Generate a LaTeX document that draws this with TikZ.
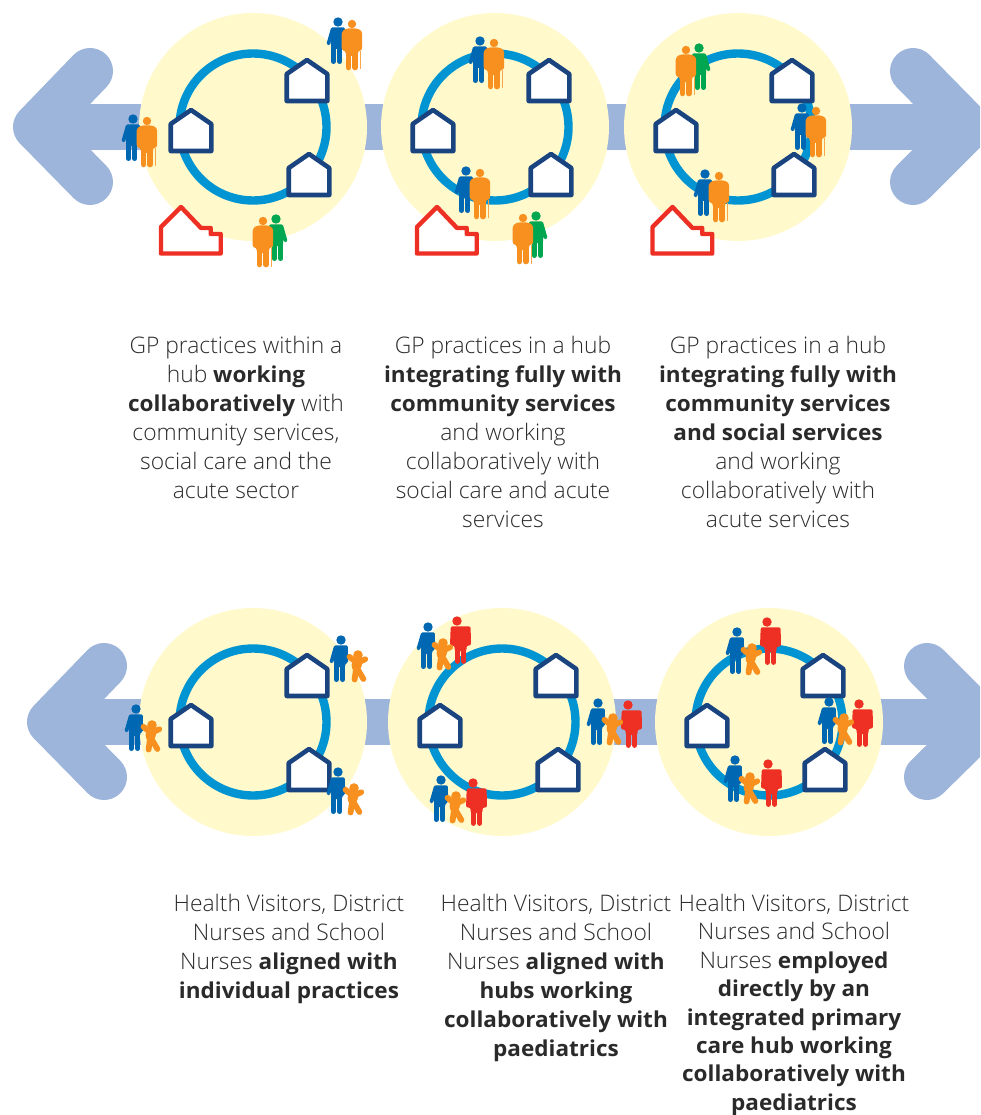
\documentclass[tikz,border=0pt]{standalone}
\usepackage{fontspec}
\setmainfont{Open Sans}[UprightFont=* Light,BoldFont=* Bold,BoldFeatures={Scale=0.96,FakeStretch=1.03}]
\definecolor{yel}{HTML}{FFF9CC}
\definecolor{ringc}{HTML}{0095D2}
\definecolor{navy}{HTML}{1A4480}
\definecolor{arrowc}{HTML}{9DB5DB}
\definecolor{bluep}{HTML}{0068B3}
\definecolor{orangep}{HTML}{F7901E}
\definecolor{greenp}{HTML}{00A650}
\definecolor{redp}{HTML}{EE2F24}
\definecolor{txt}{HTML}{2A2A2A}
\tikzset{
  x=1pt,y=-1pt,
  arrowstroke/.style={draw=arrowc,line width=46pt,line cap=round,line join=round},
  shaftstroke/.style={draw=arrowc,line width=46.5pt},
  caption/.style={align=center,text=txt,font=\fontsize{22.8}{29}\selectfont,anchor=north,inner sep=0pt},
  tightcaption/.style={caption,font=\fontsize{22.8}{28.4}\selectfont},
  hubdisc/.style={fill=yel},
  ringline/.style={draw=ringc,line width=8.4pt},
  hub/.pic={
    \fill[hubdisc] (0,0) circle[radius=114];
    \draw[ringline] (0,0) circle[radius=73.5];
    \foreach \hx/\hy in {-62/24,54/-26,56/68}{
      \draw[draw=navy,fill=white,line width=4.6pt,line join=round]
        (\hx-20.3,\hy) -- (\hx+20.3,\hy) -- (\hx+20.3,\hy-27) -- (\hx,\hy-41) -- (\hx-20.3,\hy-27) -- cycle;
    }
  },
  redbuilding/.pic={
    \draw[draw=redp,fill=white,line width=4.4pt,line join=round]
      (0,0) -- (-20,20) -- (-20,46.5) -- (39.7,46.5) -- (39.7,27) -- (29.7,27) -- (29.7,21) -- (20,21) -- cycle;
  },
  man/.pic={
    \fill[pic actions] (0,0) circle[radius=4.7];
    \fill[pic actions,rounded corners=1.5pt] (-6.8,5.3) -- (6.8,5.3) -- (7.2,23) -- (4.3,23) -- (4.3,27) -- (-7,27) -- (-7,19) -- (-8,23.5) -- (-11.7,22.5) -- cycle;
    \draw[pic actions,line width=5pt,line cap=round] (-4.6,24) -- (-4.6,39.5) (1.8,24) -- (1.8,39.5);
  },
  manmirror/.pic={
    \fill[pic actions] (0,0) circle[radius=4.7];
    \fill[pic actions,rounded corners=1.5pt] (6.8,5.3) -- (-6.8,5.3) -- (-7.2,23) -- (-4.3,23) -- (-4.3,27) -- (7,27) -- (7,19) -- (8,23.5) -- (11.7,22.5) -- cycle;
    \draw[pic actions,line width=5pt,line cap=round] (4.6,24) -- (4.6,39.5) (-1.8,24) -- (-1.8,39.5);
  },
  elder/.pic={
    \fill[orangep] (0,0) circle[radius=4.2];
    \fill[orangep,rounded corners=2.5pt] (-6,4.5) -- (6,4.5) -- (10.2,7.5) -- (10.2,26.5) -- (6,26.5) -- (6,32) -- (-6.3,32) -- (-6.3,26.5) -- (-10.3,26.5) -- (-10.3,7.5) -- cycle;
    \draw[orangep,line width=5.6pt,line cap=round] (-3.5,28) -- (-3.5,43.5) (3,28) -- (3,43.5);
    \draw[orangep!80,line width=1.4pt] (8.2,27) -- (8.2,45.5);
  },
  adult/.pic={
    \fill[redp] (0,0) circle[radius=4.7];
    \fill[redp,rounded corners=2pt] (-6.3,5.3) -- (13.6,5.3) -- (14,24.5) -- (9.5,24.5) -- (9.5,30) -- (-2.5,30) -- (-2.5,24.5) -- (-7,24.5) -- cycle;
    \draw[redp,line width=5.2pt,line cap=round] (0.3,26) -- (0.3,40.3) (6.7,26) -- (6.7,40.3);
  },
  child/.pic={
    \fill[orangep] (0,0) circle[radius=4.8];
    \draw[orangep,line width=5.8pt,line cap=round,line join=round] (-8.5,1.8) -- (-1,8) -- (7.2,4.2);
    \draw[orangep,line width=10pt,line cap=round] (-0.5,6) -- (-1.5,11);
    \draw[orangep,line width=5.8pt,line cap=round,line join=round] (-2,14) -- (-3.4,24.5) (-0.5,14) -- (5.4,24);
  },
}
\begin{document}
\begin{tikzpicture}
\useasboundingbox (0,0) rectangle (980,1115);
\clip (0,0) rectangle (980,1115);
% top arrow
\draw[shaftstroke] (60,127) -- (960,127);
\draw[arrowstroke] (90,71) -- (36,127) -- (90,182);
\draw[arrowstroke] (913,71) -- (968,127) -- (913,182);
% bottom arrow
\draw[shaftstroke] (74,722) -- (960,722);
\draw[arrowstroke] (104,666) -- (50,722) -- (104,777);
\draw[arrowstroke] (927,666) -- (983,722) -- (927,777);
% hubs
\pic at (253,127) {hub};
\pic at (495,127) {hub};
\pic at (738,127) {hub};
\pic at (253,722) {hub};
\pic at (502,722) {hub};
\pic at (769,722) {hub};
% red buildings
\pic at (181,207) {redbuilding};
\pic at (437,207) {redbuilding};
\pic at (672.5,207) {redbuilding};
% top people
\foreach \bx/\by/\ox/\oy in {338/22/352/24, 133/119/147/121, 480/41/494/43, 466/171/480/173, 802/108/816/111, 705/174/719/176}{
  \pic[bluep] at (\bx,\by) {man};
  \pic at (\ox,\oy) {elder};
}
\foreach \ox/\oy/\gx/\gy in {263/221/276/219, 523/218/536/216, 686/50/699/48}{
  \pic[greenp] at (\gx,\gy) {manmirror};
  \pic at (\ox,\oy) {elder};
}
% bottom people
\foreach \bx/\by/\cx/\cy in {341/640/358/655, 136/709/152/725, 338/772/354/788}{
  \pic[bluep] at (\bx,\by) {man};
  \pic at (\cx,\cy) {child};
}
\foreach \bx/\by/\cx/\cy/\rx/\ry in {428/627/443/643/457/621, 598/703/613/718/628/705, 441/780/456/796/473/783, 737/632/752/648/767/622, 829/702/844/718/859/704, 735/760/750/777/768/764}{
  \pic[bluep] at (\bx,\by) {man};
  \pic at (\rx,\ry) {adult};
  \pic at (\cx,\cy) {child};
}
% captions
\node[caption] (t1) at (236,336) {GP practices within a\\hub \textbf{working}\\\textbf{collaboratively} with\\community services,\\social care and the\\acute sector};
\node[caption] (t2) at (503,336) {GP practices in a hub\\\textbf{integrating fully with}\\\textbf{community services}\\and working\\collaboratively with\\social care and acute\\services};
\node[caption] (t3) at (778,336) {GP practices in a hub\\\textbf{integrating fully with}\\\textbf{community services}\\\textbf{and social services}\\and working\\collaboratively with\\acute services};
\node[caption] (b1) at (289,894) {Health Visitors, District\\Nurses and School\\Nurses \textbf{aligned with}\\\textbf{individual practices}};
\node[caption] (b2) at (556,894) {Health Visitors, District\\Nurses and School\\Nurses \textbf{aligned with}\\\textbf{hubs working}\\\textbf{collaboratively with}\\\textbf{paediatrics}};
\node[tightcaption] (b3) at (794,894) {Health Visitors, District\\Nurses and School\\Nurses \textbf{employed}\\\textbf{directly by an}\\\textbf{integrated primary}\\\textbf{care hub working}\\\textbf{collaboratively with}\\\textbf{paediatrics}};
\end{tikzpicture}
\end{document}
